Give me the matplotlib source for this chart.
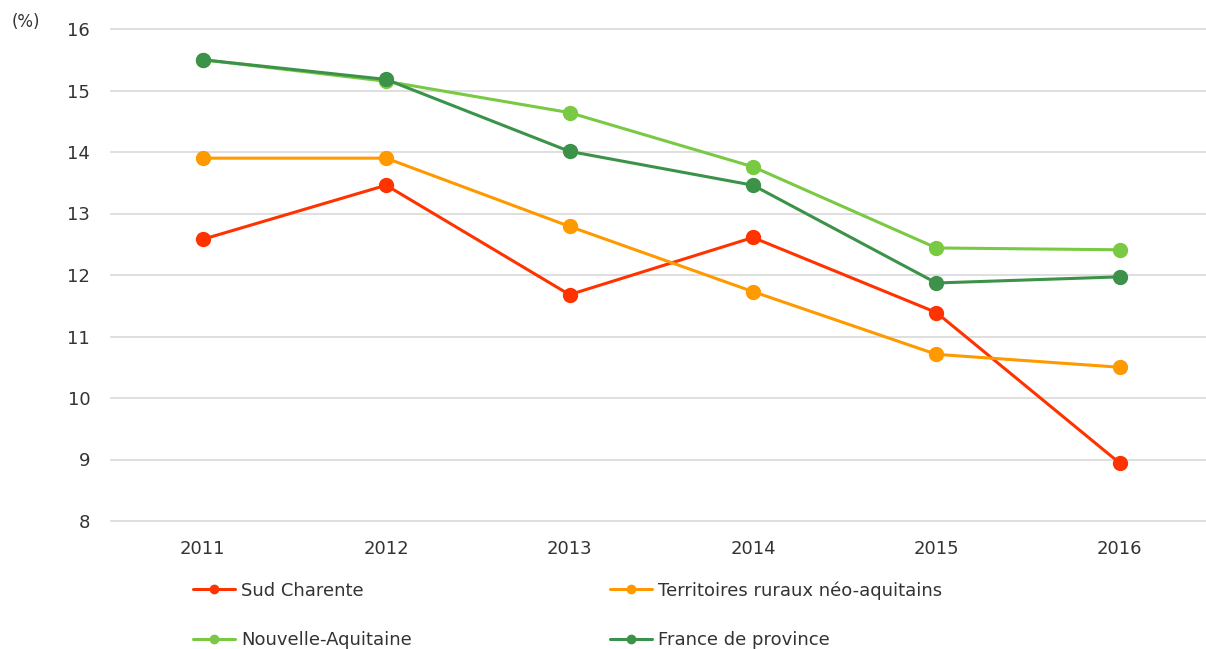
import matplotlib.pyplot as plt
from matplotlib.ticker import MultipleLocator

# données
years = ["2011", "2012", "2013", "2014", "2015", "2016"]
sud_charente = [12.58, 13.46, 11.68, 12.61, 11.39, 8.94]
territoires_ruraux = [13.90, 13.90, 12.79, 11.73, 10.71, 10.50]
nouvelle_aquitaine = [15.50, 15.15, 14.64, 13.76, 12.44, 12.41]
france_province = [15.50, 15.18, 14.01, 13.46, 11.87, 11.97]

series = [
    ("Sud Charente", sud_charente, "#FF3300"),
    ("Territoires ruraux néo-aquitains", territoires_ruraux, "#FF9900"),
    ("Nouvelle-Aquitaine", nouvelle_aquitaine, "#7AC943"),
    ("France de province", france_province, "#3B9248"),
]

plt.rcParams["font.family"] = ["DejaVu Sans"]

fig = plt.figure(figsize=(12.06, 6.49), dpi=100)
ax = fig.add_axes([111 / 1206, 1 - 521 / 649, 1 - 111 / 1206, (521 - 29) / 649])

x = range(len(years))
handles = {}
for name, vals, color in series:
    (h,) = ax.plot(x, vals, color=color, lw=2.2, marker="o", ms=10,
                   label=name, solid_capstyle="round")
    handles[name] = h

ax.set_xlim(-0.5, 5.47)
ax.set_ylim(8, 16)
ax.yaxis.set_major_locator(MultipleLocator(1))
ax.set_xticks(list(x))
ax.set_xticklabels(years)
ax.grid(axis="y", color="#D9D9D9", lw=1.2)
for gl in ax.get_ygridlines():
    gl.set_clip_on(False)
ax.set_axisbelow(True)
for s in ax.spines.values():
    s.set_visible(False)
ax.tick_params(length=0, labelsize=13, colors="#333333")
ax.tick_params(axis="y", pad=15)
ax.tick_params(axis="x", pad=14)

fig.text(12 / 1206, 1 - 22 / 649, "(%)", fontsize=12, color="#333333", va="center")

order = ["Sud Charente", "Nouvelle-Aquitaine",
         "Territoires ruraux néo-aquitains", "France de province"]
fig.legend([handles[n] for n in order], order, ncol=2, loc="upper left",
           bbox_to_anchor=(193 / 1206, 1 - 581 / 649), frameon=False,
           fontsize=13, markerscale=0.6, handlelength=2.3, handletextpad=0.35,
           columnspacing=11.0, labelspacing=1.75, borderpad=0, borderaxespad=0,
           labelcolor="#333333")

fig.savefig("out.png", dpi=100)
